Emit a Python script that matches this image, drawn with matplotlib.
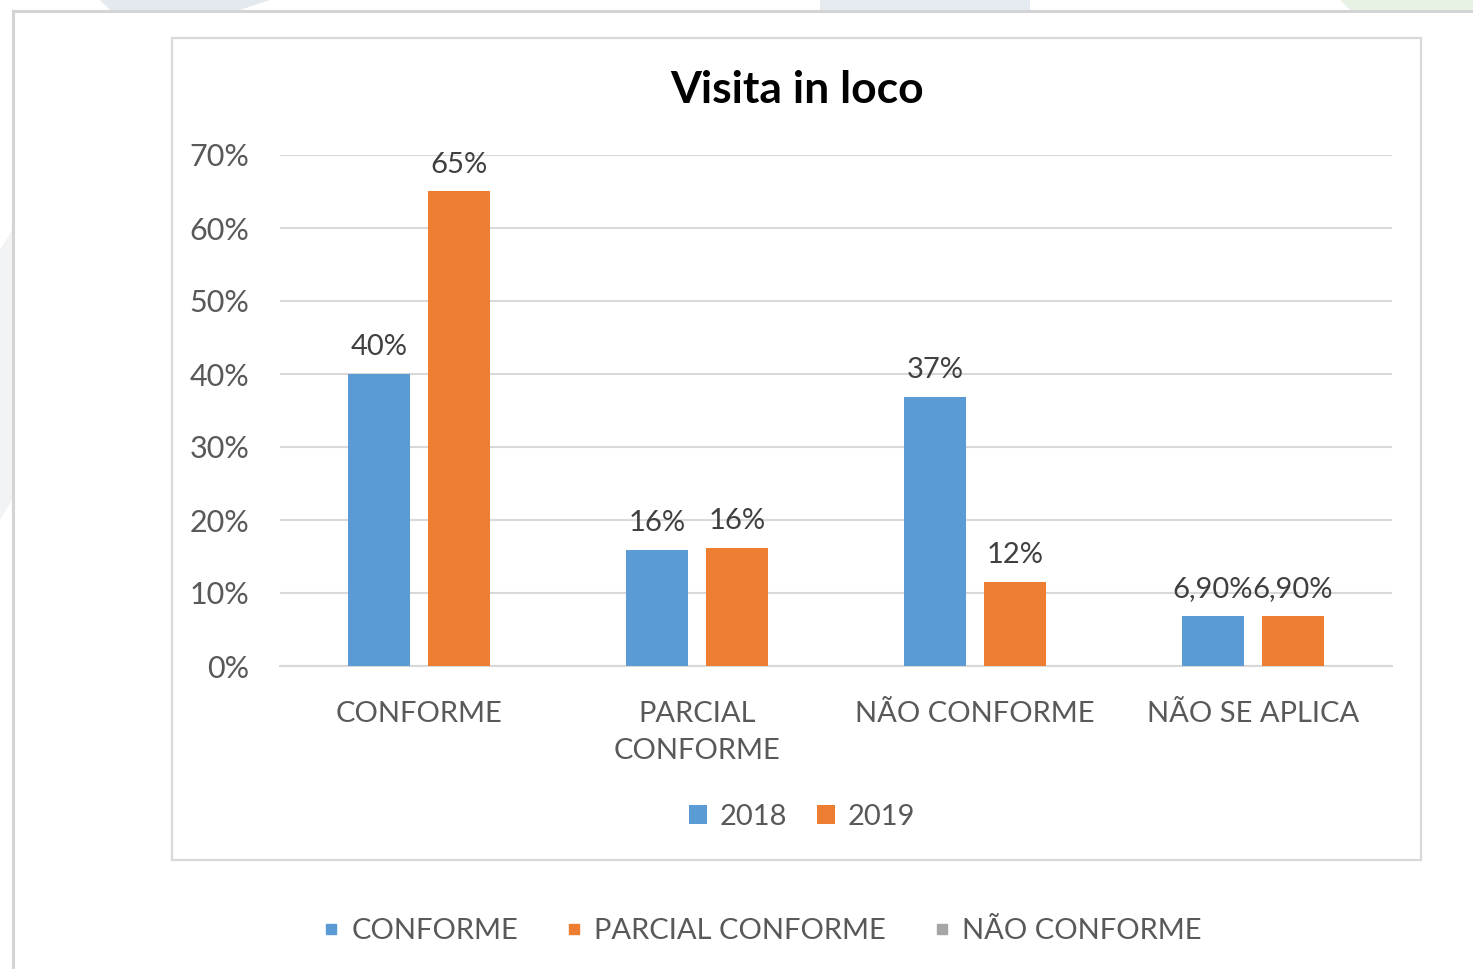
import numpy as np
import matplotlib.pyplot as plt
from matplotlib.patches import Rectangle, Polygon
from matplotlib.lines import Line2D

categories = ["CONFORME", "PARCIAL\nCONFORME", "NÃO CONFORME", "NÃO SE APLICA"]
v2018 = [0.40, 0.159, 0.368, 0.069]
v2019 = [0.65, 0.162, 0.115, 0.069]
lab2018 = ["40%", "16%", "37%", "6,90%"]
lab2019 = ["65%", "16%", "12%", "6,90%"]
yticks = [0, 0.1, 0.2, 0.3, 0.4, 0.5, 0.6, 0.7]
outer_legend = ["CONFORME", "PARCIAL CONFORME", "NÃO CONFORME"]

blue = "#5b9bd5"
orange = "#ed7d31"
gray = "#a5a5a5"
txt = "#595959"
grid = "#d9d9d9"

plt.rcParams['font.family'] = ['Lato', 'DejaVu Sans']

W, H = 1473, 969
fig = plt.figure(figsize=(W / 100, H / 100), dpi=100)

def fx(px):
    return px / W

def fy(py):
    return 1 - py / H

# faint watermark shapes behind everything
for pts, col in [
    ([(100, 0), (270, 0), (240, 10), (110, 10)], "#e4e9f0"),
    ([(820, 0), (1030, 0), (1030, 10), (820, 10)], "#e6ebf2"),
    ([(1340, 0), (1473, 0), (1473, 10), (1350, 10)], "#e8f2e4"),
    ([(0, 250), (12, 230), (12, 500), (0, 520)], "#f1f3f4"),
]:
    fig.patches.append(Polygon([(fx(x), fy(y)) for x, y in pts], closed=True,
                               transform=fig.transFigure, facecolor=col,
                               edgecolor="none", zorder=0))

# outer frame lines
fig.add_artist(Line2D([fx(13), fx(13)], [fy(11), 0], color="#d4d4d4", lw=2.2))
fig.add_artist(Line2D([fx(13), 1], [fy(11), fy(11)], color="#d4d4d4", lw=2.2))

# inner chart box
fig.patches.append(Rectangle((fx(172), fy(860)), fx(1421) - fx(172), fy(38) - fy(860),
                             transform=fig.transFigure, facecolor="white",
                             edgecolor=grid, lw=1.6, zorder=1))

ax = fig.add_axes([fx(280), fy(666), fx(1392) - fx(280), fy(155) - fy(666)])
ax.set_zorder(2)
ax.patch.set_alpha(0)

x = np.arange(len(categories))
bw = 0.223
gap = 0.065
off = (bw + gap) / 2
b1 = ax.bar(x - off, v2018, bw, color=blue, label="2018", zorder=3)
b2 = ax.bar(x + off, v2019, bw, color=orange, label="2019", zorder=3)

for bars, labs in [(b1, lab2018), (b2, lab2019)]:
    for r, s in zip(bars, labs):
        ax.annotate(s, (r.get_x() + r.get_width() / 2, r.get_height()),
                    xytext=(0, 10), textcoords="offset points",
                    ha="center", va="bottom", fontsize=21, color="#404040")

ax.set_xlim(-0.5, 3.5)
ax.set_ylim(0, 0.70)
ax.set_yticks(yticks)
ax.set_yticklabels([f"{int(round(t * 100))}%" for t in yticks])
ax.yaxis.grid(True, color=grid, lw=1.5, zorder=0)
ax.set_axisbelow(True)
for s in ["top", "right", "left"]:
    ax.spines[s].set_visible(False)
ax.spines["bottom"].set_color(grid)
ax.spines["bottom"].set_linewidth(1.5)
ax.tick_params(axis="y", length=0, pad=22, labelsize=22, labelcolor=txt)
ax.set_xticks(x)
ax.set_xticklabels(categories, fontsize=21, color=txt, linespacing=1.55)
ax.tick_params(axis="x", length=0, pad=25)

fig.text(fx(797), fy(90), "Visita in loco", ha="center", va="center",
         fontsize=32, fontweight="bold", color="black")

leg = fig.legend(handles=[b1, b2], loc="center", bbox_to_anchor=(fx(802), fy(817)),
                 ncol=2, frameon=False, fontsize=21, handlelength=0.62,
                 handleheight=0.62, handletextpad=0.45, columnspacing=1.0)
for t in leg.get_texts():
    t.set_color(txt)

hs = [Line2D([], [], marker="s", linestyle="none", markersize=7.5, color=c)
      for c in [blue, orange, gray]]
leg2 = fig.legend(hs, outer_legend, loc="center", bbox_to_anchor=(fx(762), fy(931)),
                  ncol=3, frameon=False, fontsize=21, handlelength=0.6,
                  handletextpad=0.4, columnspacing=1.6)
for t in leg2.get_texts():
    t.set_color(txt)

fig.savefig("out.png", dpi=100, facecolor="white")
